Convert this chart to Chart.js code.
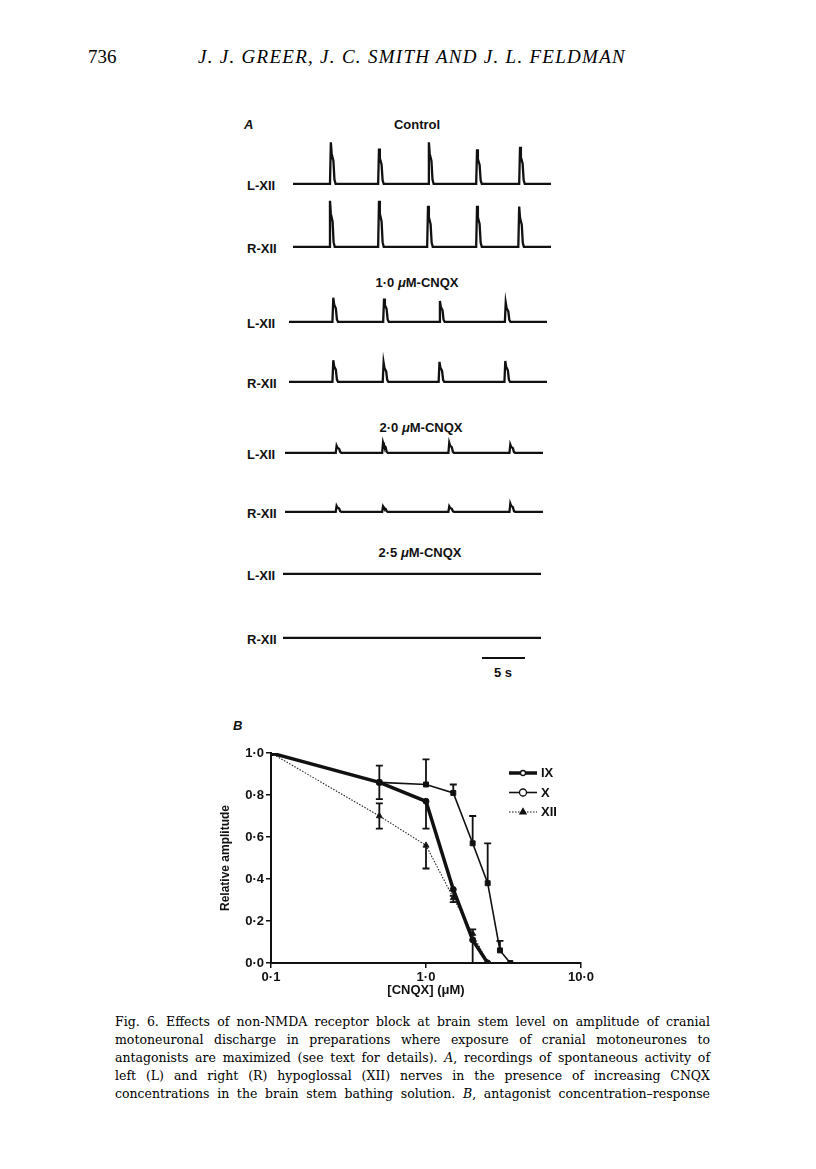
<!DOCTYPE html>
<html>
<head>
<meta charset="utf-8">
<script src="https://cdn.jsdelivr.net/npm/chart.js@4.4.1/dist/chart.umd.min.js"></script>
<style>
  body { margin: 0; width: 816px; height: 1169px; position: relative; overflow: hidden;
         background: #fff; color: #111; font-family: "Liberation Sans", Arial, sans-serif; }
  .lbl { position: absolute; font-weight: bold; font-size: 13px; line-height: 14px; white-space: nowrap; }
  .ctr { transform: translate(-50%, -50%); }
  .mid { transform: translateY(-50%); }
  .cap { position: absolute; left: 115px; font-family: "DejaVu Serif", serif; font-size: 12.5px;
         line-height: 18px; white-space: nowrap; color: #000; }
  .head { position: absolute; top: 47px; font-family: "Liberation Serif", serif; font-size: 19px;
          line-height: 20px; white-space: nowrap; color: #000; }
  canvas { position: absolute; }
</style>
</head>
<body>

<div class="head" style="left:88px">736</div>
<div class="head" id="authors" style="left:198px; font-style:italic">J. J. GREER, J. C. SMITH AND J. L. FELDMAN</div>

<div class="lbl mid" style="left:244px; top:125px; font-style:italic">A</div>
<div class="lbl mid" style="left:233px; top:726px; font-style:italic">B</div>

<div class="lbl" style="left:482px; top:656.5px; width:43px; height:2px; background:#111"></div>
<div class="lbl ctr" style="left:503px; top:673px">5 s</div>

<canvas id="doseChart" width="420" height="270" style="left:200px; top:735px"></canvas>

<div class="cap" style="top:1013px">Fig. 6. Effects of non-NMDA receptor block at brain stem level on amplitude of cranial</div>
<div class="cap" style="top:1031px">motoneuronal discharge in preparations where exposure of cranial motoneurones to</div>
<div class="cap" style="top:1049px">antagonists are maximized (see text for details). <i>A</i>, recordings of spontaneous activity of</div>
<div class="cap" style="top:1067px">left (L) and right (R) hypoglossal (XII) nerves in the presence of increasing CNQX</div>
<div class="cap" style="top:1085px">concentrations in the brain stem bathing solution. <i>B</i>, antagonist concentration–response</div>

<script>
// ---- Panel B: relative amplitude vs CNQX concentration ----
var cnqx   = [0.1, 0.5, 1.0, 1.5, 2.0, 2.5, 3.0, 3.5];
var ampIX  = [1.0, 0.86, 0.77, 0.35, 0.11, 0.0, null, null];
var ampX   = [1.0, 0.86, 0.85, 0.81, 0.57, 0.38, 0.06, 0.0];
var ampXII = [1.0, 0.70, 0.56, 0.31, 0.14, 0.0, null, null];

// one-sided SEM bars as drawn in the figure
var errUpIX    = [null, null, null, null, null, null, null, null];
var errDownIX  = [null, 0.08, 0.13, 0.03, 0.11, null, null, null];
var errUpX     = [null, 0.08, 0.12, 0.04, 0.13, 0.19, 0.045, null];
var errDownX   = [null, null, null, null, null, null, null, null];
var errUpXII   = [null, 0.06, null, null, 0.02, null, null, null];
var errDownXII = [null, 0.06, 0.11, 0.02, null, null, null, null];

var seriesNames = ['IX', 'X', 'XII'];
var xTicks = [0.1, 1, 10];
var xTickLabels = ['0·1', '1·0', '10·0'];
var yTicks = [0, 0.2, 0.4, 0.6, 0.8, 1.0];
var yTickLabels = ['0·0', '0·2', '0·4', '0·6', '0·8', '1·0'];

// ---- Panel A: burst times (s) and relative peak heights ----
var ctrlLTimes = [4.4, 10.0, 15.8, 21.4, 26.4];
var ctrlLAmps  = [1.0, 0.85, 1.0, 0.83, 0.89];
var ctrlRTimes = [4.3, 10.0, 15.7, 21.4, 26.3];
var ctrlRAmps  = [1.11, 1.11, 0.99, 0.99, 0.97];
var cnqx10LTimes = [5.15, 11.05, 17.55, 25.2];
var cnqx10LAmps  = [0.58, 0.56, 0.5, 0.46];
var cnqx10RTimes = [5.15, 11.0, 17.5, 25.15];
var cnqx10RAmps  = [0.52, 0.46, 0.48, 0.5];
var cnqx20LTimes = [6.0, 11.4, 19.1, 26.2];
var cnqx20LAmps  = [0.17, 0.25, 0.24, 0.2];
var cnqx20RTimes = [6.0, 11.4, 19.1, 26.2];
var cnqx20RAmps  = [0.14, 0.13, 0.13, 0.2];
var cnqx25LTimes = [];
var cnqx25LAmps  = [];
var cnqx25RTimes = [];
var cnqx25RAmps  = [];
var traceSeconds = 30;
// shape of one burst: [offset s, fraction of peak]
var burstShape = [[-0.1, 0], [0, 1], [0.1, 0.72], [0.3, 0.55], [0.42, 0.1], [0.55, 0]];

var conditionTitles = ['Control', '1·0 <i>μ</i>M-CNQX', '2·0 <i>μ</i>M-CNQX', '2·5 <i>μ</i>M-CNQX'];

// layout of the eight recordings (baseline y, left x in page pixels)
var traces = [
  {side: 'L-XII', base: 184,   left: 293, t: ctrlLTimes,   a: ctrlLAmps},
  {side: 'R-XII', base: 246.5, left: 293, t: ctrlRTimes,   a: ctrlRAmps},
  {side: 'L-XII', base: 321.5, left: 289, t: cnqx10LTimes, a: cnqx10LAmps},
  {side: 'R-XII', base: 381.5, left: 289, t: cnqx10RTimes, a: cnqx10RAmps},
  {side: 'L-XII', base: 453,   left: 285, t: cnqx20LTimes, a: cnqx20LAmps},
  {side: 'R-XII', base: 511.5, left: 285, t: cnqx20RTimes, a: cnqx20RAmps},
  {side: 'L-XII', base: 574,   left: 283, t: cnqx25LTimes, a: cnqx25LAmps},
  {side: 'R-XII', base: 638,   left: 283, t: cnqx25RTimes, a: cnqx25RAmps}
];
var titlePos = [[417, 125], [417, 283], [421, 428], [420, 552.5]];

conditionTitles.forEach(function (txt, i) {
  var d = document.createElement('div');
  d.className = 'lbl ctr';
  d.style.left = titlePos[i][0] + 'px';
  d.style.top = titlePos[i][1] + 'px';
  d.innerHTML = txt;
  document.body.appendChild(d);
});

var pxPerSec = 8.6, traceH = 56, yMin = -0.15, yMax = 1.2;

traces.forEach(function (tr) {
  var lab = document.createElement('div');
  lab.className = 'lbl mid';
  lab.style.left = '247px';
  lab.style.top = (tr.base + 2) + 'px';
  lab.textContent = tr.side;
  document.body.appendChild(lab);

  var cv = document.createElement('canvas');
  cv.width = Math.round(traceSeconds * pxPerSec);
  cv.height = traceH;
  cv.style.left = tr.left + 'px';
  cv.style.top = (tr.base - yMax / (yMax - yMin) * traceH) + 'px';
  document.body.appendChild(cv);

  var pts = [{x: 0, y: 0}];
  tr.t.forEach(function (t, i) {
    burstShape.forEach(function (s) {
      pts.push({x: t + s[0], y: tr.a[i] * s[1]});
    });
  });
  pts.push({x: traceSeconds, y: 0});

  new Chart(cv, {
    type: 'line',
    data: {datasets: [{data: pts, borderColor: '#111', borderWidth: 2.3, pointRadius: 0, tension: 0}]},
    options: {
      responsive: false, animation: false, events: [],
      layout: {padding: 0},
      plugins: {legend: {display: false}, tooltip: {enabled: false}},
      scales: {
        x: {type: 'linear', display: false, min: 0, max: traceSeconds},
        y: {display: false, min: yMin, max: yMax}
      }
    }
  });
});

// error bars
var errorBars = {
  id: 'errorBars',
  beforeDatasetsDraw: function (chart) {
    var ctx = chart.ctx, xs = chart.scales.x, ys = chart.scales.y;
    ctx.save();
    ctx.strokeStyle = '#111';
    ctx.lineWidth = 1.8;
    chart.data.datasets.forEach(function (ds) {
      ds.data.forEach(function (p, i) {
        if (p.y === null) return;
        var px = xs.getPixelForValue(p.x);
        [[ds.errUp[i], 1], [ds.errDown[i], -1]].forEach(function (e) {
          if (!e[0]) return;
          var y0 = ys.getPixelForValue(p.y), y1 = ys.getPixelForValue(p.y + e[1] * e[0]);
          ctx.beginPath();
          ctx.moveTo(px, y0); ctx.lineTo(px, y1);
          ctx.moveTo(px - 3.5, y1); ctx.lineTo(px + 3.5, y1);
          ctx.stroke();
        });
      });
    });
    ctx.restore();
  }
};

// legend at upper right with line + marker samples
var sideLegend = {
  id: 'sideLegend',
  afterDraw: function (chart) {
    var ctx = chart.ctx, area = chart.chartArea;
    var x0 = area.right - 72, x1 = x0 + 28;
    chart.data.datasets.forEach(function (ds, i) {
      var yy = area.top + 20 + i * 19.5;
      ctx.save();
      ctx.strokeStyle = '#111';
      ctx.lineWidth = ds.borderWidth;
      ctx.setLineDash(ds.borderDash || []);
      ctx.beginPath(); ctx.moveTo(x0, yy); ctx.lineTo(x1, yy); ctx.stroke();
      ctx.setLineDash([]);
      ctx.fillStyle = ds.legendFill;
      ctx.lineWidth = 1.3;
      Chart.helpers.drawPoint(ctx, {pointStyle: ds.pointStyle === 'rect' ? 'circle' : ds.pointStyle,
        radius: ds.legendRadius, borderWidth: 1.3, rotation: 0}, (x0 + x1) / 2, yy);
      ctx.fillStyle = '#111';
      ctx.font = 'bold 13px "Liberation Sans", Arial, sans-serif';
      ctx.textBaseline = 'middle';
      ctx.fillText(ds.label, x1 + 4, yy + 0.5);
      ctx.restore();
    });
  }
};

function series(ys) {
  return cnqx.map(function (c, i) { return {x: c, y: ys[i]}; });
}

var tickFont = {family: '"Liberation Sans", Arial, sans-serif', size: 13, weight: 'bold'};

new Chart(document.getElementById('doseChart'), {
  type: 'line',
  data: {
    datasets: [
      {label: seriesNames[0], data: series(ampIX), errUp: errUpIX, errDown: errDownIX,
       borderColor: '#111', backgroundColor: '#111', borderWidth: 3.5, pointStyle: 'circle',
       pointRadius: 3, pointBorderWidth: 1, legendFill: '#fff', legendRadius: 2.5},
      {label: seriesNames[1], data: series(ampX), errUp: errUpX, errDown: errDownX,
       borderColor: '#111', backgroundColor: '#111', borderWidth: 1.6, pointStyle: 'rect',
       pointRadius: 3.5, pointBorderWidth: 1, legendFill: '#fff', legendRadius: 3.5},
      {label: seriesNames[2], data: series(ampXII), errUp: errUpXII, errDown: errDownXII,
       borderColor: '#222', backgroundColor: '#111', borderWidth: 1.1, borderDash: [1.5, 1.5],
       pointStyle: 'triangle', pointRadius: 3.5, pointBorderWidth: 1, legendFill: '#111', legendRadius: 3.5}
    ]
  },
  options: {
    responsive: false, animation: false, events: [],
    layout: {padding: {left: 0, top: 18, right: 39, bottom: 6}},
    plugins: {legend: {display: false}, tooltip: {enabled: false}},
    scales: {
      x: {
        type: 'logarithmic', min: 0.1, max: 10,
        afterBuildTicks: function (s) { s.ticks = xTicks.map(function (v) { return {value: v}; }); },
        afterFit: function (s) { s.height = 36; },
        ticks: {callback: function (v, i) { return xTickLabels[i]; }, font: tickFont, color: '#111', padding: 2, maxRotation: 0},
        grid: {drawOnChartArea: false, tickLength: 5, color: '#111', lineWidth: 1.5},
        border: {display: true, color: '#111', width: 2},
        title: {display: true, text: '[CNQX] (μM)', font: tickFont, color: '#111', padding: {top: 0, bottom: 1}}
      },
      y: {
        min: 0, max: 1,
        afterBuildTicks: function (s) { s.ticks = yTicks.map(function (v) { return {value: v}; }); },
        afterFit: function (s) { s.width = 71; },
        ticks: {callback: function (v, i) { return yTickLabels[i]; }, font: tickFont, color: '#111', padding: 2},
        grid: {drawOnChartArea: false, tickLength: 5, color: '#111', lineWidth: 1.5},
        border: {display: true, color: '#111', width: 2},
        title: {display: true, text: 'Relative amplitude', color: '#111',
                font: {family: '"Liberation Sans", Arial, sans-serif', size: 12, weight: 'bold'},
                padding: {top: 18, bottom: 0}}
      }
    }
  },
  plugins: [errorBars, sideLegend]
});

// justify caption lines and spread the running head
document.querySelectorAll('.cap').forEach(function (el) {
  var w = el.getBoundingClientRect().width;
  var n = (el.textContent.match(/ /g) || []).length;
  el.style.wordSpacing = ((595 - w) / n) + 'px';
});
var au = document.getElementById('authors');
var aw = au.getBoundingClientRect().width;
au.style.letterSpacing = ((428 - aw) / au.textContent.length) + 'px';
</script>
</body>
</html>
